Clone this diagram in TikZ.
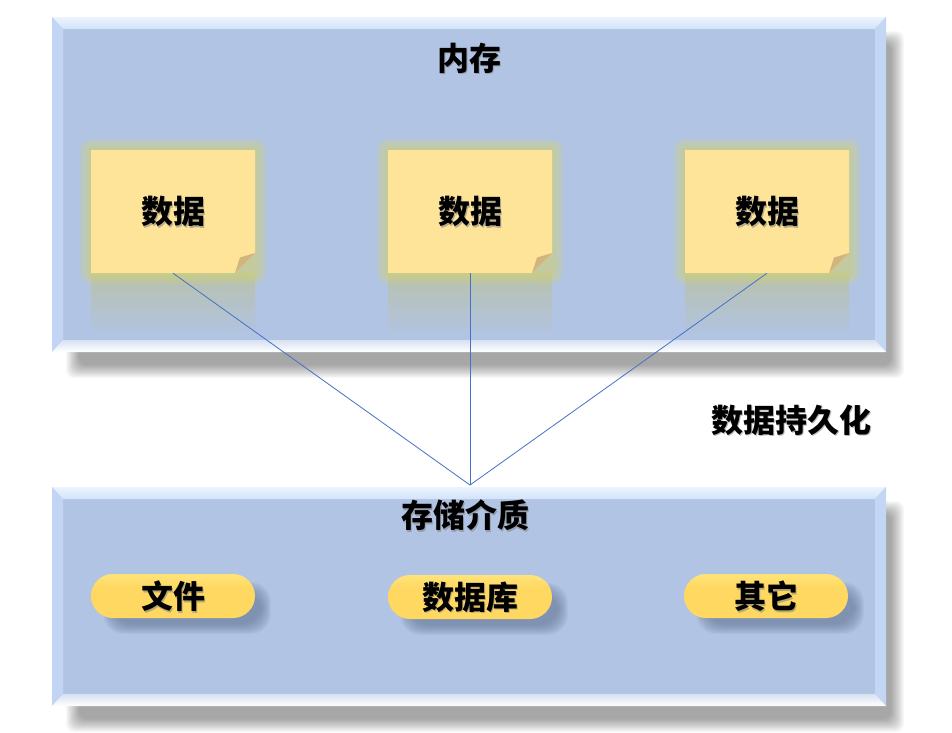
\documentclass[tikz,border=0pt]{standalone}
\usepackage{fontspec}
\newfontfamily\cjk{Noto Sans CJK SC}
\usetikzlibrary{calc}
\definecolor{panel}{HTML}{B1C4E4}
\definecolor{bevtop}{HTML}{D2E3FB}
\definecolor{bevleft}{HTML}{C2D5F4}
\definecolor{bevright}{HTML}{C3D7F5}
\definecolor{notefill}{HTML}{FDE499}
\definecolor{glowc}{HTML}{D6D67A}
\definecolor{foldc}{HTML}{D2B57C}
\definecolor{connc}{HTML}{4472C4}
\definecolor{pilltop}{HTML}{FFF6A0}
\definecolor{pillmid}{HTML}{FFD862}
\definecolor{pillshadow}{HTML}{5F7191}
\pgfdeclareverticalshading{pillshade}{100bp}{color(0bp)=(pillmid!70!pilltop); color(25bp)=(pillmid); color(60bp)=(pillmid); color(80bp)=(pillmid!50!pilltop); color(100bp)=(pilltop)}
\newcommand\bevpanel[4]{%
  \foreach \k in {0,...,13}
    \fill[black,opacity=0.026,rounded corners=8pt] ({#1+14+\k},{#2+14+\k}) rectangle ({#3+18-\k},{#4+26-\k});
  \fill[panel] (#1,#2) rectangle (#3,#4);
  \shade[top color=white!60!bevtop, bottom color=bevtop] (#1,#2) -- (#3,#2) -- ({#3-11},{#2+12}) -- ({#1+11},{#2+12}) -- cycle;
  \fill[bevleft] (#1,#2) -- ({#1+11},{#2+12}) -- ({#1+11},{#4-12}) -- (#1,#4) -- cycle;
  \fill[bevright] (#3,#2) -- ({#3-11},{#2+12}) -- ({#3-11},{#4-12}) -- (#3,#4) -- cycle;
  \shade[top color=panel!50!white, bottom color=white] (#1,#4) -- ({#1+11},{#4-12}) -- ({#3-11},{#4-12}) -- (#3,#4) -- cycle;
}
\tikzset{
  lbl/.style={font=\cjk\bfseries\fontsize{32}{36}\selectfont, inner sep=0pt},
  lblshadow/.style={lbl, text=black!50, opacity=0.55},
  notetext/.style={lbl, minimum width=164pt, minimum height=123pt},
  pilltext/.style={lbl, minimum width=164pt, minimum height=44pt},
  connector/.style={connc, line width=0.8pt},
}
\newcommand\shlabel[3]{%
  \node[lblshadow] at ($(#1)+(1.8,1.8)$) {#3};
  \node[lbl] (#2) at (#1) {#3};
}
\newcommand\stickynote[3]{%
  \shade[top color=glowc!45!panel!85!gray, bottom color=panel] ({#1-82},{#2+62}) rectangle ({#1+82},{#2+126});
  \foreach \k in {1,...,12}
    \fill[glowc,opacity=0.08,rounded corners=\k pt] ({#1-82-\k},{#2-61.5-\k}) rectangle ({#1+82+\k},{#2+61.5+\k});
  \fill[notefill] ({#1-82},{#2-61.5}) -- ({#1+82},{#2-61.5}) -- ({#1+82},{#2+41.5}) -- ({#1+62},{#2+61.5}) -- ({#1-82},{#2+61.5}) -- cycle;
  \fill[foldc] ({#1+82},{#2+41.5}) -- ({#1+67},{#2+46}) -- ({#1+62},{#2+61.5}) -- cycle;
  \node[lblshadow] at ({#1+1.8},{#2+1.8}) {数据};
  \node[notetext] (#3) at (#1,#2) {数据};
}
\newcommand\pill[4]{%
  \foreach \k in {0,...,10}
    \fill[pillshadow,opacity=0.07,rounded corners=20pt] ({#1-82+12+\k},{#2-22+8+\k}) rectangle ({#1+82+16-\k},{#2+22+16-\k});
  \shade[rounded corners=22pt, shading=pillshade] ({#1-82},{#2-22}) rectangle ({#1+82},{#2+22});
  \node[lblshadow] at ({#1+1.8},{#2+1.8}) {#4};
  \node[pilltext] (#3) at (#1,#2) {#4};
}
\begin{document}
\begin{tikzpicture}[x=1pt,y=-1pt]
\useasboundingbox[fill=white] (0,0) rectangle (952,732);
% memory panel
\bevpanel{52}{17}{886}{352}
\coordinate (memtitle) at (469,58);
\shlabel{memtitle}{mem}{内存}
\stickynote{173}{211.5}{d1}
\stickynote{470}{211.5}{d2}
\stickynote{767}{211.5}{d3}
% storage panel
\bevpanel{52}{487}{886}{706}
\coordinate (sttitle) at (465,515);
\shlabel{sttitle}{storage}{存储介质}
\pill{173}{596}{file}{文件}
\pill{470}{597}{db}{数据库}
\pill{766}{596}{other}{其它}
% persistence label
\coordinate (perpos) at (791,420);
\shlabel{perpos}{persist}{数据持久化}
% connectors
\coordinate (hub) at (470,485);
\draw[connector] (d1.south) -- (hub);
\draw[connector] (d2.south) -- (hub);
\draw[connector] (d3.south) -- (hub);
\end{tikzpicture}
\end{document}
